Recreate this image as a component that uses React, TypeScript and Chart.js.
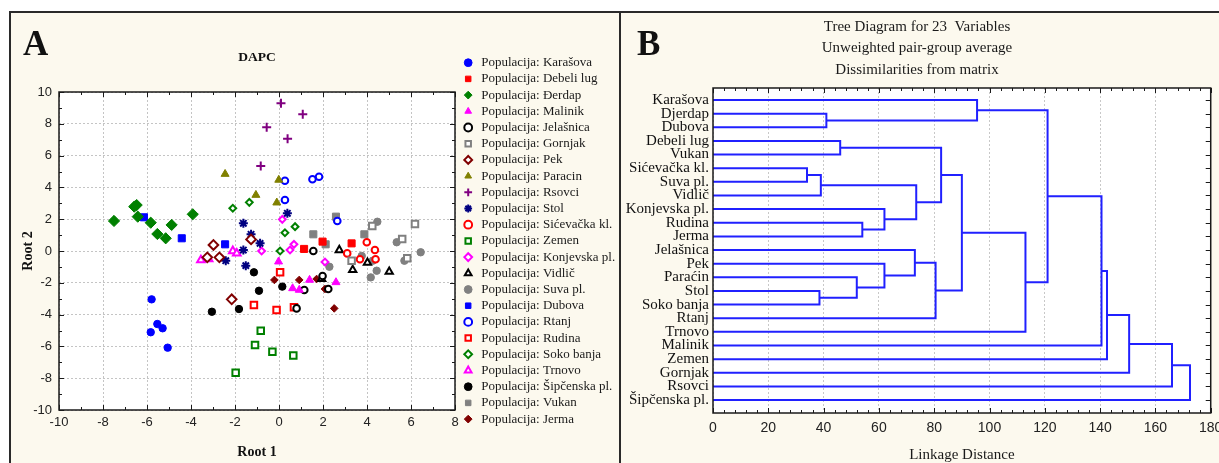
import React, { useEffect, useRef } from 'react';
import { Chart, registerables } from 'chart.js';

Chart.register(...registerables);

const SERIF = '"Liberation Serif", "Times New Roman", Times, serif';
const SANS = '"Liberation Sans", Arial, Helvetica, sans-serif';
const CREAM = '#fcf9ee';

// ---------- Panel A: DAPC scatter (Root 1, Root 2) ----------
const populationNames = [
  'Karašova', 'Debeli lug', 'Đerdap', 'Malinik', 'Jelašnica', 'Gornjak', 'Pek', 'Paracin',
  'Rsovci', 'Stol', 'Sićevačka kl.', 'Zemen', 'Konjevska pl.', 'Vidlič', 'Suva pl.', 'Dubova',
  'Rtanj', 'Rudina', 'Soko banja', 'Trnovo', 'Šipčenska pl.', 'Vukan', 'Jerma',
];

const karasova = [[-5.79, -3.04], [-5.53, -4.59], [-5.29, -4.86], [-5.83, -5.11], [-5.06, -6.08]];
const debeliLug = [[1.14, 0.13], [1.98, 0.59], [3.3, 0.48]];
const derdap = [[-7.5, 1.89], [-6.58, 2.79], [-6.47, 2.89], [-6.42, 2.16], [-5.83, 1.78], [-5.53, 1.07], [-5.15, 0.8], [-4.88, 1.64], [-3.92, 2.31]];
const malinik = [[-0.02, -0.67], [0.62, -2.35], [0.92, -2.45], [1.39, -1.82], [2.59, -1.97]];
const jelasnica = [[1.56, 0.0], [1.98, -1.57], [1.15, -2.45], [2.24, -2.39], [0.8, -3.61]];
const gornjak = [[4.24, 1.57], [6.18, 1.7], [5.6, 0.75], [3.3, -0.61], [5.83, -0.46]];
const pek = [[-2.98, 0.38], [-3.26, -0.4], [-2.71, -0.4], [-1.27, 0.73], [-2.15, -3.04]];
const paracin = [[-2.45, 4.84], [-0.01, 4.47], [-1.05, 3.52], [-0.1, 3.04]];
const rsovci = [[0.09, 9.3], [1.08, 8.6], [-0.56, 7.78], [0.39, 7.06], [-0.83, 5.35]];
const stol = [[0.38, 2.37], [-1.62, 1.74], [-1.27, 1.05], [-0.86, 0.48], [-1.62, 0.06], [-2.42, -0.61], [-1.51, -0.92]];
const sicevacka = [[3.99, 0.55], [4.36, 0.06], [3.1, -0.15], [3.68, -0.52], [4.39, -0.52]];
const zemen = [[-0.83, -5.01], [-1.09, -5.91], [-0.3, -6.33], [0.65, -6.58], [-1.97, -7.65]];
const konjevska = [[0.15, 1.99], [-0.79, 0.0], [0.5, 0.06], [0.68, 0.42], [2.09, -0.69]];
const vidlic = [[2.74, 0.06], [3.35, -1.19], [4.02, -0.73], [5.01, -1.3], [1.94, -1.76]];
const suva = [[4.47, 1.84], [5.35, 0.55], [6.44, -0.08], [3.76, -0.31], [4.26, -0.61], [4.44, -1.24], [4.17, -1.66], [2.29, -0.99], [5.7, -0.61]];
const dubova = [[-6.14, 2.12], [-4.42, 0.8], [-2.45, 0.42]];
const rtanj = [[0.27, 4.42], [1.52, 4.51], [1.82, 4.67], [0.27, 3.21], [2.65, 1.89]];
const rudina = [[0.05, -1.34], [-1.14, -3.4], [-0.11, -3.71], [0.68, -3.54]];
const sokoBanja = [[-2.1, 2.69], [-1.35, 3.06], [0.27, 1.15], [0.73, 1.53], [0.05, 0.0]];
const trnovo = [[-3.55, -0.57], [-3.2, -0.5], [-2.1, 0.0], [-1.92, -0.15]];
const sipcenska = [[-1.14, -1.34], [-0.91, -2.5], [0.15, -2.24], [-1.82, -3.65], [-3.05, -3.82]];
const vukan = [[2.59, 2.16], [1.56, 1.05], [3.88, 1.05], [2.12, 0.42]];
const jerma = [[-0.21, -1.82], [0.92, -1.82], [1.71, -1.76], [2.09, -2.39], [2.51, -3.61]];

const populationPoints = [
  karasova, debeliLug, derdap, malinik, jelasnica, gornjak, pek, paracin, rsovci, stol, sicevacka,
  zemen, konjevska, vidlic, suva, dubova, rtanj, rudina, sokoBanja, trnovo, sipcenska, vukan, jerma,
];

const rootTicksX = { min: -10, max: 8, step: 2 };
const rootTicksY = { min: -10, max: 10, step: 2 };

// marker styles (separate from data)
const markerColors = [
  '#0000ff', '#ff0000', '#008000', '#ff00ff', '#000000', '#808080', '#800000', '#808000',
  '#800080', '#000080', '#ff0000', '#008000', '#ff00ff', '#000000', '#808080', '#0000ff',
  '#0000ff', '#ff0000', '#008000', '#ff00ff', '#000000', '#808080', '#800000',
];
const markerShapes = [
  'circle', 'rect', 'rectRot', 'triangle', 'circle', 'rect', 'rectRot', 'triangle',
  'cross', 'star', 'circle', 'rect', 'rectRot', 'triangle', 'circle', 'rect',
  'circle', 'rect', 'rectRot', 'triangle', 'circle', 'rect', 'rectRot',
];
const markerFilled = [
  true, true, true, true, false, false, false, true,
  true, true, false, false, false, false, true, true,
  false, false, false, false, true, true, true,
];
const markerRadius = [
  3.7, 5, 5.6, 4.6, 3.3, 4.6, 4.8, 4.6,
  4.5, 4.5, 3.3, 4.6, 3.4, 4.2, 3.7, 5,
  3.3, 4.6, 3.4, 4.4, 3.7, 5, 3.8,
];

// ---------- Panel B: dendrogram ----------
const leafNames = [
  'Karašova', 'Djerdap', 'Dubova', 'Debeli lug', 'Vukan', 'Sićevačka kl.', 'Suva pl.', 'Vidlič',
  'Konjevska pl.', 'Rudina', 'Jerma', 'Jelašnica', 'Pek', 'Paraćin', 'Stol', 'Soko banja',
  'Rtanj', 'Trnovo', 'Malinik', 'Zemen', 'Gornjak', 'Rsovci', 'Šipčenska pl.',
];
// merges: node ids < 23 are leaves, 23 + k is the k-th merge
const mergeLeft = [1, 0, 3, 5, 26, 9, 8, 27, 25, 14, 13, 12, 11, 35, 31, 37, 24, 39, 40, 41, 42, 43];
const mergeRight = [2, 23, 4, 6, 7, 10, 28, 29, 30, 15, 32, 33, 34, 16, 36, 17, 38, 18, 19, 20, 21, 22];
const mergeHeight = [41, 95.5, 46, 34, 39, 54, 62, 73.5, 82.5, 38.5, 52, 62, 73, 80.5, 90, 113, 121, 140.5, 142.5, 150.5, 166, 172.5];
const linkageTicks = { min: 0, max: 180, step: 20 };
const treeTitle = ['Tree Diagram for 23  Variables', 'Unweighted pair-group average', 'Dissimilarities from matrix'];

type FrameCfg = {
  xMin: number; xMax: number; xStep: number; xMajorEvery: number;
  yValues: number[]; yMajorEvery: number; yLeft: boolean;
  majorLen: number; minorLen: number; borderWidth: number;
  letter: string; letterX: number; letterY: number;
};

function framePlugin(cfg: FrameCfg) {
  return {
    id: 'frame',
    beforeDraw(chart: any) {
      const { ctx, chartArea: a } = chart;
      ctx.save();
      ctx.fillStyle = '#ffffff';
      ctx.fillRect(a.left, a.top, a.right - a.left, a.bottom - a.top);
      ctx.restore();
    },
    afterDatasetsDraw(chart: any) {
      const { ctx, chartArea: a, scales } = chart;
      const xs = scales.x;
      const ys = scales.y;
      ctx.save();
      ctx.strokeStyle = '#1a1a1a';
      ctx.lineWidth = 1;
      ctx.beginPath();
      const steps = Math.round((cfg.xMax - cfg.xMin) / cfg.xStep);
      for (let i = 0; i <= steps; i++) {
        const v = cfg.xMin + i * cfg.xStep;
        const p = Math.round(xs.getPixelForValue(v)) + 0.5;
        const len = i % cfg.xMajorEvery === 0 ? cfg.majorLen : cfg.minorLen;
        ctx.moveTo(p, a.bottom);
        ctx.lineTo(p, a.bottom - len);
        ctx.moveTo(p, a.top);
        ctx.lineTo(p, a.top + len);
      }
      cfg.yValues.forEach((v, i) => {
        const p = Math.round(ys.getPixelForValue(v)) + 0.5;
        const len = i % cfg.yMajorEvery === 0 ? cfg.majorLen : cfg.minorLen;
        if (cfg.yLeft) {
          ctx.moveTo(a.left, p);
          ctx.lineTo(a.left + len, p);
        }
        ctx.moveTo(a.right, p);
        ctx.lineTo(a.right - len, p);
      });
      ctx.stroke();
      ctx.lineWidth = cfg.borderWidth;
      ctx.strokeRect(a.left, a.top, a.right - a.left, a.bottom - a.top);
      ctx.restore();
    },
    afterDraw(chart: any) {
      const ctx = chart.ctx;
      ctx.save();
      ctx.fillStyle = '#111';
      ctx.font = `bold 35px ${SERIF}`;
      ctx.textBaseline = 'alphabetic';
      ctx.textAlign = 'left';
      ctx.fillText(cfg.letter, cfg.letterX, cfg.letterY);
      ctx.restore();
    },
  };
}

// nudges the legend a few pixels right and widens its box so long labels are not clipped
const legendShift = {
  id: 'legendShift',
  afterLayout(chart: any) {
    const l = chart.legend;
    if (l) {
      l.left += 3.5;
      l.width = chart.width - l.left;
      l.right = chart.width;
    }
  },
};

function configA(): any {
  const datasets = populationPoints.map((pts, i) => ({
    label: 'Populacija: ' + populationNames[i],
    data: pts.map(([x, y]) => ({ x, y })),
    pointStyle: markerShapes[i],
    pointRadius: markerRadius[i],
    pointHoverRadius: markerRadius[i],
    backgroundColor: markerFilled[i] ? markerColors[i] : '#ffffff',
    borderColor: markerColors[i],
    borderWidth: markerFilled[i] && markerShapes[i] !== 'cross' && markerShapes[i] !== 'star' ? 1 : 2,
  }));
  const yVals: number[] = [];
  for (let v = rootTicksY.max; v >= rootTicksY.min; v--) yVals.push(v);
  return {
    type: 'scatter',
    data: { datasets },
    options: {
      responsive: false,
      animation: false,
      events: [],
      layout: { padding: { left: 0, right: 16, top: 0, bottom: 12.6 } },
      scales: {
        x: {
          type: 'linear',
          min: rootTicksX.min,
          max: rootTicksX.max,
          afterFit: (s: any) => { s.height = 50.4; },
          ticks: { stepSize: rootTicksX.step, padding: 4.2, color: '#222', font: { family: SANS, size: 13 } },
          grid: { color: '#c4c4c4', lineWidth: 1, drawTicks: false },
          border: { display: false, dash: [2, 2] },
          title: { display: true, text: 'Root 1', color: '#111', font: { family: SERIF, size: 14, weight: 'bold' }, padding: { top: 0, bottom: 0 } },
        },
        y: {
          type: 'linear',
          min: rootTicksY.min,
          max: rootTicksY.max,
          afterFit: (s: any) => { s.width = 48; },
          ticks: { stepSize: rootTicksY.step, padding: 7, color: '#222', font: { family: SANS, size: 13 } },
          grid: { color: '#c4c4c4', lineWidth: 1, drawTicks: false },
          border: { display: false, dash: [2, 2] },
          title: { display: true, text: 'Root 2', color: '#111', font: { family: SERIF, size: 14, weight: 'bold' }, padding: { top: 8.6, bottom: 0 } },
        },
      },
      plugins: {
        tooltip: { enabled: false },
        title: {
          display: true,
          fullSize: false,
          text: 'DAPC',
          color: '#111',
          font: { family: SERIF, size: 13.5, weight: 'bold' },
          padding: { top: 36, bottom: 26.8 },
        },
        legend: {
          display: true,
          position: 'right',
          align: 'start',
          maxWidth: 148,
          title: { display: true, text: ' ', font: { size: 10 }, padding: { top: 28, bottom: 0 } },
          labels: {
            usePointStyle: true,
            boxWidth: 13,
            boxHeight: 5.5,
            padding: 3.2,
            color: '#1a1a1a',
            font: { family: SERIF, size: 13 },
          },
        },
      },
    },
    plugins: [
      legendShift,
      framePlugin({
        xMin: rootTicksX.min, xMax: rootTicksX.max, xStep: 1, xMajorEvery: 2,
        yValues: yVals, yMajorEvery: 2, yLeft: true,
        majorLen: 5, minorLen: 3, borderWidth: 1.5,
        letter: 'A', letterX: 12, letterY: 42,
      }),
    ],
  };
}

function configB(): any {
  const nodeX: number[] = leafNames.map(() => 0);
  const nodeY: number[] = leafNames.map((_, i) => i);
  const datasets = mergeHeight.map((h, k) => {
    const a = mergeLeft[k];
    const b = mergeRight[k];
    const seg = [
      { x: nodeX[a], y: nodeY[a] },
      { x: h, y: nodeY[a] },
      { x: h, y: nodeY[b] },
      { x: nodeX[b], y: nodeY[b] },
    ];
    nodeX.push(h);
    nodeY.push((nodeY[a] + nodeY[b]) / 2);
    return {
      label: 'link ' + k,
      data: seg,
      showLine: true,
      pointRadius: 0,
      pointHoverRadius: 0,
      borderColor: '#2020ff',
      backgroundColor: '#2020ff',
      borderWidth: 2,
      tension: 0,
      borderJoinStyle: 'miter',
      borderCapStyle: 'butt',
    };
  });
  return {
    type: 'scatter',
    data: { datasets },
    options: {
      responsive: false,
      animation: false,
      events: [],
      layout: { padding: { left: 0, right: 16, top: 0, bottom: 9 } },
      scales: {
        x: {
          type: 'linear',
          min: linkageTicks.min,
          max: linkageTicks.max,
          afterFit: (s: any) => { s.height = 51; },
          ticks: { stepSize: linkageTicks.step, padding: 6.6, color: '#222', font: { family: SANS, size: 14 } },
          grid: { color: '#c8c8c8', lineWidth: 1, drawTicks: false },
          border: { display: false, dash: [2, 2] },
          title: { display: true, text: 'Linkage Distance', color: '#1a1a1a', font: { family: SERIF, size: 15 }, padding: { top: 0, bottom: 0 } },
        },
        y: {
          type: 'linear',
          reverse: true,
          min: -0.88,
          max: 22.95,
          afterFit: (s: any) => { s.width = 92; },
          afterBuildTicks: (s: any) => { s.ticks = leafNames.map((_, i) => ({ value: i })); },
          ticks: {
            autoSkip: false,
            padding: 4,
            color: '#111',
            font: { family: SERIF, size: 15 },
            callback: (v: any) => leafNames[Math.round(Number(v))] ?? '',
          },
          grid: { display: false, drawTicks: false },
          border: { display: false },
        },
      },
      plugins: {
        tooltip: { enabled: false },
        legend: { display: false },
        title: {
          display: true,
          text: treeTitle,
          color: '#1a1a1a',
          font: { family: SERIF, size: 15, weight: 'normal', lineHeight: 1.4333 },
          padding: { top: 3.25, bottom: 7.25 },
        },
      },
    },
    plugins: [
      framePlugin({
        xMin: linkageTicks.min, xMax: linkageTicks.max, xStep: 4, xMajorEvery: 5,
        yValues: leafNames.map((_, i) => i), yMajorEvery: 1, yLeft: false,
        majorLen: 5, minorLen: 3, borderWidth: 1.5,
        letter: 'B', letterX: 16, letterY: 42,
      }),
    ],
  };
}

export default function App() {
  const refA = useRef<HTMLCanvasElement>(null);
  const refB = useRef<HTMLCanvasElement>(null);

  useEffect(() => {
    const a = new Chart(refA.current as HTMLCanvasElement, configA());
    const b = new Chart(refB.current as HTMLCanvasElement, configB());
    return () => {
      a.destroy();
      b.destroy();
    };
  }, []);

  return (
    <div style={{ position: 'absolute', left: 0, top: 0, width: 1219, height: 463, overflow: 'hidden', background: '#ffffff' }}>
      <div style={{ position: 'absolute', left: 9, top: 11, width: 612, height: 470, boxSizing: 'border-box', border: '2px solid #2a2a2a', background: CREAM }}>
        <canvas ref={refA} width={608} height={460} style={{ position: 'absolute', left: 0, top: 0, width: 608, height: 460 }} />
      </div>
      <div style={{ position: 'absolute', left: 619, top: 11, width: 620, height: 470, boxSizing: 'border-box', border: '2px solid #2a2a2a', background: CREAM }}>
        <canvas ref={refB} width={608} height={460} style={{ position: 'absolute', left: 0, top: 0, width: 608, height: 460 }} />
      </div>
    </div>
  );
}
